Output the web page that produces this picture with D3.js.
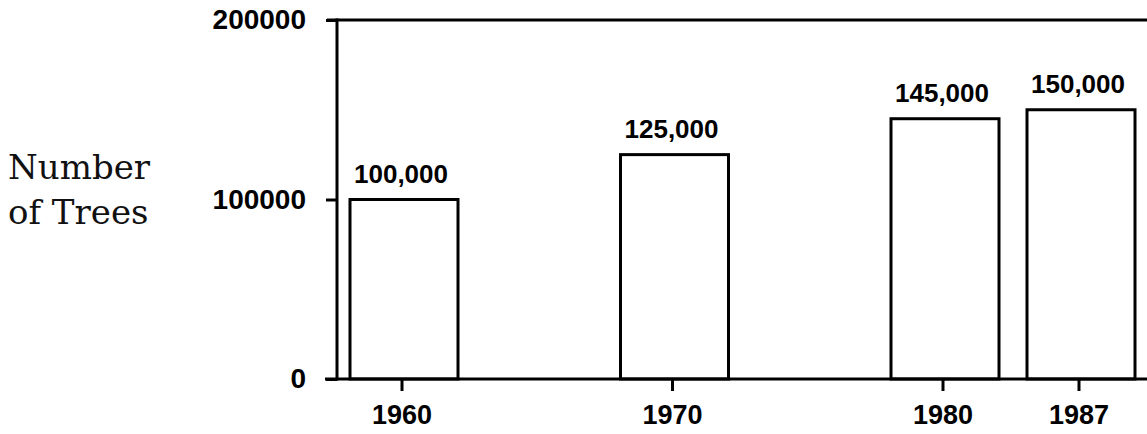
<!DOCTYPE html>
<html>
<head>
    <title>Number of Trees</title>
    <script src="https://d3js.org/d3.v7.min.js"></script>
    <style>
        body { margin: 0; background: #fff; }
        .tick-label { font-family: "Liberation Sans", Arial, sans-serif; font-weight: bold; }
    </style>
</head>
<body>
    <div id="chart"></div>

    <script>
        var years = [1960, 1970, 1980, 1987];
        var trees = [100000, 125000, 145000, 150000];
        var barLabels = ["100,000", "125,000", "145,000", "150,000"];
        var yTicks = [0, 100000, 200000];

        var width = 1147, height = 434;

        var svg = d3.select("#chart").append("svg")
            .attr("width", width).attr("height", height);

        // years are not evenly spaced in the original, 1987 is squeezed in
        var x = d3.scaleLinear().domain([1960, 1980, 1987]).range([404, 945, 1081]);
        var y = d3.scaleLinear().domain([0, 200000]).range([379, 20]);
        var barWidth = 108;
        var axisX = 337;

        // axis title
        var title = svg.append("text")
            .attr("font-family", "'DejaVu Serif', serif")
            .attr("font-size", 34)
            .attr("fill", "#111");
        title.append("tspan").attr("x", 8).attr("y", 179).text("Number");
        title.append("tspan").attr("x", 8).attr("y", 224).text("of Trees");

        // y axis
        var yAxis = svg.append("g")
            .attr("transform", "translate(" + axisX + ",0)")
            .call(d3.axisLeft(y).tickValues(yTicks).tickFormat(d3.format("d")).tickSize(11).tickPadding(20));
        yAxis.select(".domain").remove();
        yAxis.selectAll(".tick line").attr("stroke", "#000").attr("stroke-width", 3);
        yAxis.selectAll(".tick text")
            .attr("class", "tick-label")
            .attr("font-size", 28)
            .attr("fill", "#000");

        svg.append("line")
            .attr("x1", axisX).attr("x2", axisX)
            .attr("y1", y(200000) - 1.5).attr("y2", y(0) + 1.5)
            .attr("stroke", "#000").attr("stroke-width", 3);

        // top frame line
        svg.append("line")
            .attr("x1", axisX - 10).attr("x2", width)
            .attr("y1", y(200000)).attr("y2", y(200000))
            .attr("stroke", "#000").attr("stroke-width", 3);

        // bars
        svg.selectAll(".bar")
            .data(years)
            .enter().append("rect")
            .attr("class", "bar")
            .attr("x", function(d) { return x(d) - barWidth / 2; })
            .attr("width", barWidth)
            .attr("y", function(d, i) { return y(trees[i]); })
            .attr("height", function(d, i) { return y(0) - y(trees[i]); })
            .attr("fill", "#fff")
            .attr("stroke", "#000")
            .attr("stroke-width", 3);

        svg.selectAll(".bar-label")
            .data(years)
            .enter().append("text")
            .attr("class", "tick-label")
            .attr("x", function(d) { return x(d) - 3; })
            .attr("y", function(d, i) { return y(trees[i]) - 17; })
            .attr("text-anchor", "middle")
            .attr("font-size", 26)
            .text(function(d, i) { return barLabels[i]; });

        // x axis
        var xAxis = svg.append("g")
            .attr("transform", "translate(0," + y(0) + ")")
            .call(d3.axisBottom(x).tickValues(years).tickFormat(d3.format("d")).tickSize(12).tickPadding(14));
        xAxis.select(".domain").remove();
        xAxis.selectAll(".tick").attr("transform", function(d) { return "translate(" + (x(d) - 2) + ",0)"; });
        xAxis.selectAll(".tick line").attr("stroke", "#000").attr("stroke-width", 3);
        xAxis.selectAll(".tick text")
            .attr("class", "tick-label")
            .attr("font-size", 27)
            .attr("fill", "#000");

        svg.append("line")
            .attr("x1", axisX - 12).attr("x2", width)
            .attr("y1", y(0)).attr("y2", y(0))
            .attr("stroke", "#000").attr("stroke-width", 3);
    </script>
</body>
</html>
